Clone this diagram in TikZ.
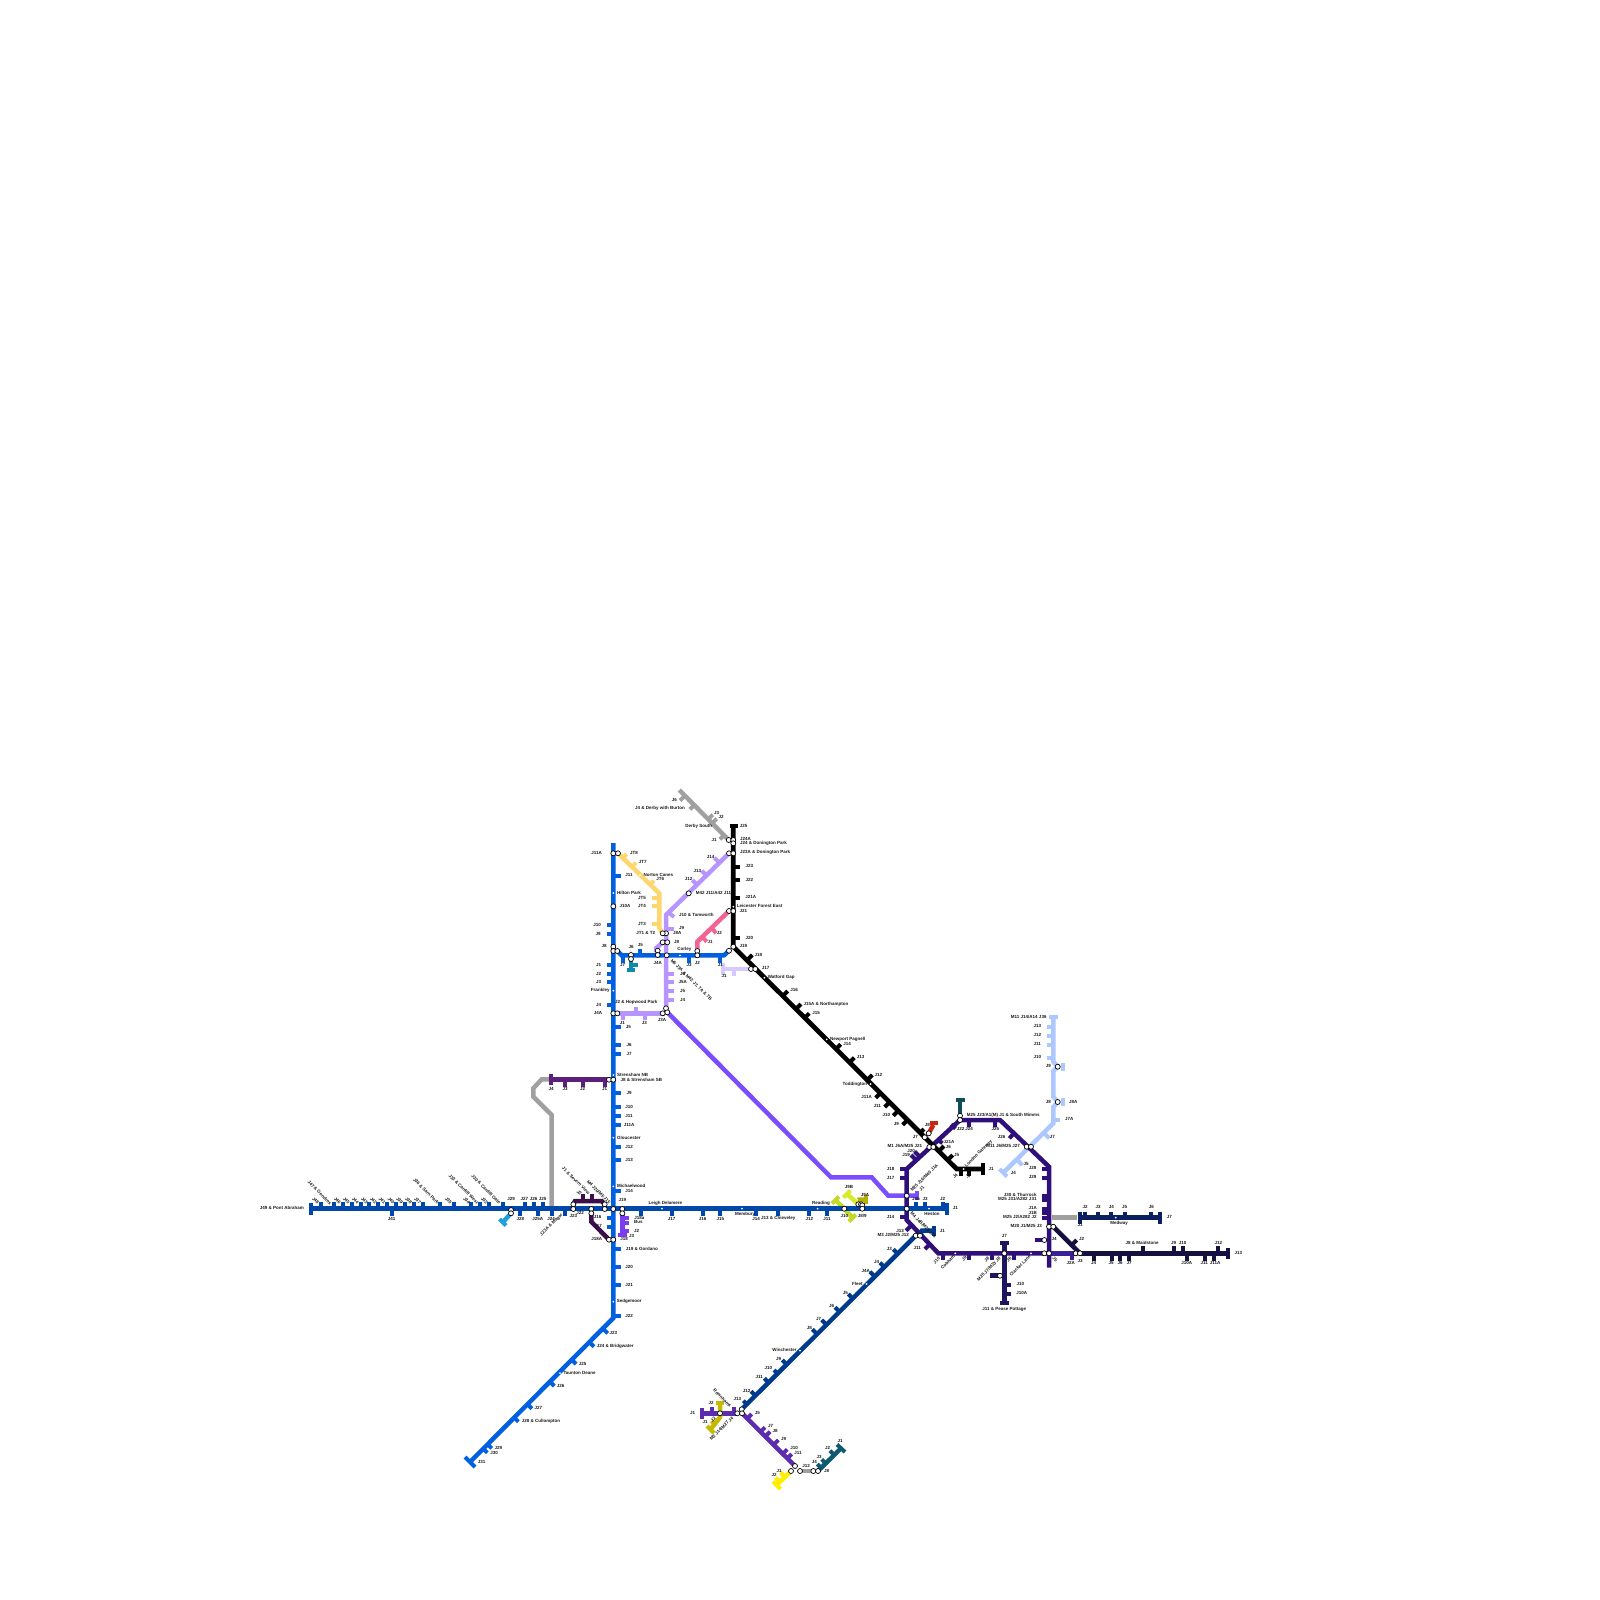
\documentclass[tikz,border=0pt]{standalone}
\usepackage{fontspec}
\setmainfont{Liberation Sans}
\definecolor{cFour}{HTML}{0047AB}
\definecolor{cFive}{HTML}{0060E0}
\definecolor{cLav}{HTML}{B794FF}
\definecolor{cForty}{HTML}{7C4DFF}
\definecolor{cToll}{HTML}{FFD66E}
\definecolor{cPink}{HTML}{F06595}
\definecolor{cPale}{HTML}{D6C9FF}
\definecolor{cM25}{HTML}{2F0F7A}
\definecolor{cM25b}{HTML}{3A1F99}
\definecolor{cMTw}{HTML}{14103F}
\definecolor{cMTh}{HTML}{1E1560}
\definecolor{cM2}{HTML}{0A2060}
\definecolor{cEle}{HTML}{ADC8FF}
\definecolor{cGrey}{HTML}{A0A0A0}
\definecolor{cFif}{HTML}{5B1F7E}
\definecolor{cFoE}{HTML}{3C0E4A}
\definecolor{cPur}{HTML}{7A3DF0}
\definecolor{cFiF}{HTML}{0F8AA8}
\definecolor{cAFE}{HTML}{1EA0DC}
\definecolor{cLime}{HTML}{C3D92A}
\definecolor{cLim}{HTML}{D8E82A}
\definecolor{cOli}{HTML}{B5B000}
\definecolor{cMTh3}{HTML}{003A8C}
\definecolor{cMTS}{HTML}{5B2BB0}
\definecolor{cOch}{HTML}{C7B800}
\definecolor{cYel}{HTML}{FFEE00}
\definecolor{cTeal}{HTML}{105A70}
\definecolor{cAOne}{HTML}{0F4C5C}
\definecolor{cRed}{HTML}{C8270F}
\newcount\lbn
\newcommand\mlb[4][]{\global\advance\lbn by 1 \node[lb,#1] (t\the\lbn) at (#2,#3) {#4};}
\newcommand\dotst[2]{\global\advance\lbn by 1 \node[dotst] (d\the\lbn) at (#1,#2) {};}
\tikzset{
 mway/.style={line width=4.5pt},
 tk/.style={line width=4pt},
 lb/.style={inner sep=0pt,font=\fontsize{4.5}{5}\selectfont\bfseries,text=black!90},
 lr/.style={rotate=-45},
 lu/.style={rotate=45},
 ist/.style={circle,draw=black,fill=white,line width=.7pt,minimum size=5pt,inner sep=0pt},
 dotst/.style={circle,fill=white,minimum size=2pt,inner sep=0pt}
}
\begin{document}
\begin{tikzpicture}[x=1pt,y=-1pt]
\useasboundingbox (0,0) rectangle (1600,1600);
\def\iclist{aa/613.3/853.3,ab/618/853.3,ac/613.3/906.3,ad/613.3/946.7,ae/613.3/951,af/617.3/951,ag/613.3/1013.3,ah/617.3/1013.3,ai/609/1079.7,aj/613.3/1079.7,ak/613.3/1209,al/609/1239.7,am/613.3/1239.7,an/511/1210,ao/511/1213.3,ap/573.3/1204.3,aq/573.3/1209,ar/604.7/1204.3,as/604.7/1209,at/591.3/1209,au/591.3/1213.3,av/622.3/1209,aw/622.3/1213.3,ba/631/955,bb/631/959,bc/657.7/950.7,bd/657.7/955,be/697.3/951,bf/697.3/955.3,bg/729/950.7,bh/733.3/946.7,bi/666/933.3,bj/662.7/933.3,bk/662.7/942.3,bl/667.3/942.3,bm/666.7/955.3,bn/666/1008.3,bo/662.7/1013.3,bp/667.3/1012.3,bq/688.7/893.3,ca/728.7/840,cb/733.3/840,cc/733.3/843.3,cd/729/853.3,ce/733.3/853.3,cf/729/911,cg/733.3/911,ch/751/969,ci/755.3/969,cj/928.7/1133.3,ck/924.7/1137.3,cl/929.3/1147,cm/933.3/1147,da/960/1115.7,db/960/1120,dc/1026.7/1146.7,dd/1031/1146.7,de/906.7/1195.7,df/906.7/1208.7,dg/844.3/1208.7,dh/858.3/1204.3,di/861/1204.3,dj/862.3/1205.3,dk/862.3/1208.7,dl/915.7/1235.7,dm/920/1235.7,ea/1049/1226.7,eb/1053.3/1226.7,ec/1044.3/1240,ed/1044.3/1253.3,ee/1049/1253.3,ef/1075.7/1253.3,eg/1080/1253.3,eh/1004.3/1253.3,ei/1000/1275.7,ej/1057.7/1066.7,ek/1057.7/1102,fa/741.7/1409.3,fb/737.3/1413.3,fc/742/1413.3,fd/720/1413.3,fe/795/1466,ff/791/1471,fg/800/1471,fh/813.3/1471,fi/818/1471}
\foreach \n/\x/\y in \iclist {\coordinate (\n) at (\x,\y);}
% ---- lines
\draw[mway,cGrey] (551.7,1206)--(551.7,1115)--(533.3,1096.7)--(533.3,1088.3)--(541.7,1079.3)--(552,1079.3);
\draw[mway,cGrey] (679.3,790)--(ca);
\draw[mway,cGrey] (1051.7,1217.7)--(1077.3,1217.7);
\draw[mway,cGrey] (fg)--(fh);
\draw[mway,cFoE] (ap)--(575,1201)--(601.7,1201)--(ar);
\draw[mway,cFoE] (au)--(591.3,1221.7)--(al);
\draw[mway,cPur] (aw)--(622.3,1235);
\draw[mway,cFif] (ai)--(551,1079.7);
\draw[mway,cAFE] (ao)--(503,1222);
\draw[mway,cFiF] (bb)--(631,970);
\draw[mway,cLime] (835.5,1200)--(dg)--(852.7,1218);
\draw[mway,cLim] (dh)--(847,1194);
\draw[mway,cOli] (di)--(860,1199.5)--(866,1199.5);
\draw[mway,cFive] (613.3,843)--(613.3,1318)--(470,1462);
\draw[mway,cFive] (af)--(621.7,955.3)--(724,955.3)--(bg);
\draw[mway,cLav] (cd)--(666,915)--(666,1011);
\draw[mway,cLav] (bk)--(656,948.3)--(656,952);
\draw[mway,cLav] (ah)--(bo);
\draw[mway,cForty] (bp)--(831,1177.3)--(871.7,1177.3)--(888.3,1195.7)--(916.7,1195.7);
\draw[mway,cToll] (ab)--(659.3,893.3)--(659.3,928)--(bj);
\draw[mway,cPink] (be)--(697.3,941.7)--(cf);
\draw[mway,cPale] (ch)--(723.3,969);
\draw[mway,cFour] (311,1208.7)--(947,1208.7);
\draw[mway,cAOne] (da)--(960,1100);
\draw[mway,cRed] (cj)--(933.3,1125);
\draw[mway,cEle] (1053.3,1016.7)--(1053.3,1061.7)--(ej)--(1053.3,1071)--(1053.3,1096.7)--(ek)--(1053.3,1107)--(1053.3,1123.3)--(1003.3,1172.7);
\draw[mway,cM25] (db)--(1000,1120)--(1049,1166.7)--(1049,1267.7);
\draw[mway,cM25] (db)--(906.7,1169)--(906.7,1220)--(938.3,1253.3)--(ee);
\draw[mway,cM25b] (ee)--(ef);
\draw[mway,cM25] (ec)--(1035,1240);
\draw[mway,cMTw] (eg)--(1228.3,1253.3);
\draw[mway,cMTw] (eb)--(eg);
\draw[mway,cM2] (1079.7,1217.7)--(1160,1217.7);
\draw[mway,cMTh] (1004.3,1243.3)--(1004.3,1302.7);
\draw[mway,cMTh] (ei)--(990,1275.7);
\draw[mway,cMTh3] (dl)--(fa);
\draw[mway,cMTh3] (dm)--(922,1230.7)--(934,1230.7);
\draw[mway,cMTS] (fb)--(701.7,1413.3);
\draw[mway,cMTS] (fc)--(fe);
\draw[mway,cOch] (720,1403.3)--(720,1417.3)--(710,1430);
\draw[mway,cYel] (ff)--(776.7,1485);
\draw[mway,cTeal] (fi)--(841,1448.3);
\draw[line width=4.7pt,black] (733.3,825.7)--(733.3,946.7)--(956.7,1169)--(981.7,1169);
% ---- ticks and end bars
\foreach \x in {320.7,334,343,351.7,360.7,369.3,378.3,387.3,396,405,413.7,422.7,440.3,453.7,471.3,480.3,489.3,502.7,525,534,542.7,916,925,942.7} \draw[tk,cFour] (\x,1208.7)--(\x,1201.7);
\foreach \x in {391.7,520,538,551.7,565,640.7,671.7,702.7,720.3,756,778,809.3,827} \draw[tk,cFour] (\x,1208.7)--(\x,1215.7);
\draw[tk,cFour] (311,1203)--(311,1214.5); \draw[tk,cFour] (947,1203)--(947,1214.5);
\foreach \y in {876,1027,1044.7,1053.7,1093.3,1107,1115.7,1124.7,1146.7,1160,1191.3,1249,1267,1284.7,1315.7} \draw[tk,cFive] (613.3,\y)--(620.5,\y);
\foreach \y in {924.7,933.7,964.7,973.7,981.7,1004.7,1218,1227} \draw[tk,cFive] (613.3,\y)--(606.5,\y);
\foreach \x/\y in {607.7/1333.3,594/1346.7,576/1364,554.3/1386,532/1408.7,518.3/1421.7,491.7/1448.3,487.3/1452.7} \draw[tk,cFive] (\x-4.5,\y-4.5)--(\x,\y);
\draw[tk,cFive] (465,1457)--(475,1467);
\foreach \x in {622.7,689,720.3} \draw[tk,cFive] (\x,955.3)--(\x,962.7);
\draw[tk,cFive] (640.3,955.3)--(640.3,949);
\draw[tk,cFoE] (582.7,1201)--(582.7,1193.5); \draw[tk,cFoE] (591.7,1201)--(591.7,1193.5);
\foreach \y in {1218,1222.5,1231} \draw[tk,cPur] (622.3,\y)--(629,\y);
\draw[tk,cPur] (618,1235.3)--(627,1235.3);
\foreach \x in {604.7,582.7,565} \draw[tk,cFif] (\x,1079.7)--(\x,1086.5);
\draw[tk,cFif] (551,1074)--(551,1085);
\draw[tk,cFiF] (631,964.5)--(637.5,964.5); \draw[tk,cFiF] (627,969.5)--(635,969.5);
\draw[tk,cAFE] (499.5,1219)--(506,1225.5);
\draw[tk,cLime] (832,1203.5)--(839,1196.5); \draw[tk,cLime] (849,1221.5)--(856,1214.5);
\draw[tk,cLim] (843.5,1197.5)--(850.5,1190.5);
\draw[tk,cOli] (866,1195)--(866,1204);
\draw[tk,cToll] (622.3,858.3)--(626.7,854); \draw[tk,cToll] (631.7,867.3)--(636,862.7); \draw[tk,cToll] (649.3,885)--(654,880.7);
\foreach \y in {897.7,906.3,924.3} \draw[tk,cToll] (659.3,\y)--(651.7,\y);
\foreach \x/\y in {714.3/857.7,701.7/870.7,692.3/880} \draw[tk,cLav] (\x+4.7,\y+4.7)--(\x,\y);
\draw[tk,cLav] (669,912.7)--(674,917);
\foreach \y in {929,973.7,982.3,991.3,1000} \draw[tk,cLav] (666,\y)--(674,\y);
\foreach \x in {622.7,645} \draw[tk,cLav] (\x,1013.3)--(\x,1020);
\draw[tk,cLav] (636,1013.3)--(636,1006.5);
\draw[tk,cPink] (702.7,937.3)--(706.7,941.7); \draw[tk,cPink] (712.7,929)--(716,933.3);
\draw[tk,cPale] (723.3,963)--(723.3,974.5); \draw[tk,cPale] (734,969)--(734,975.7);
\draw[tk,cForty] (916.7,1191)--(916.7,1200);
\draw[tk,black] (729.5,825.7)--(737.5,825.7);
\foreach \y in {866.7,880,897.7,938} \draw[tk,black] (733.3,\y)--(740,\y);
\foreach \X/\Y in {747.3/960,782.7/996,796/1009,804.3/1018.3,835.7/1049.3,849.3/1062.7,867.3/1080,919/1134,939/1151,947.7/1160} \draw[tk,black] (\X,\Y)--(\X+5,\Y-5);
\foreach \X/\Y in {875.7/1097.7,884.7/1107,893.3/1115.7,902.7/1124.7} \draw[tk,black] (\X+5,\Y-5)--(\X,\Y);
\foreach \x in {960.5,969} \draw[tk,black] (\x,1169)--(\x,1175.5);
\draw[tk,black] (982.7,1163)--(982.7,1175);
\draw[tk,cGrey] (685,795.7)--(680,800.5);
\draw[tk,cGrey] (695,804.3)--(690,809.3);
\draw[tk,cGrey] (708.3,819)--(712.7,814.7); \draw[tk,cGrey] (712.3,823)--(716.7,818.7);
\draw[tk,cGrey] (725,834.3)--(720,839.3);
\draw[tk,cAOne] (955.5,1100)--(964.5,1100);
\draw[tk,cRed] (929.5,1123.2)--(938,1123.2);
\foreach \x in {969,995.3} \draw[tk,cM25] (\x,1120)--(\x,1126.7);
\draw[tk,cM25] (1013.3,1134)--(1009.3,1138.3);
\foreach \y in {1169,1178,1195.7,1200,1209,1213.3,1217.7} \draw[tk,cM25] (1049,\y)--(1042.3,\y);
\draw[tk,cM25] (951,1124.5)--(955.5,1128.5);
\draw[tk,cM25] (936.5,1139.5)--(942.5,1143);
\draw[tk,cM25] (919.5,1156.5)--(914.5,1151.5); \draw[tk,cM25] (916,1160)--(911,1155);
\foreach \y in {1169.3,1178.3,1217.3} \draw[tk,cM25] (906.7,\y)--(900,\y);
\draw[tk,cM25] (910.7,1226)--(906,1230.7); \draw[tk,cM25] (930,1244)--(925,1249);
\foreach \x in {942.7,969.3,991.7,1014} \draw[tk,cM25] (\x,1253.3)--(\x,1260);
\draw[tk,cM25b] (1071.7,1253.3)--(1071.7,1260);
\draw[tk,cMTw] (1071,1245.7)--(1076.7,1240);
\foreach \x in {1094,1111.7,1120.3,1129.3,1187.3,1205,1213.7} \draw[tk,cMTw] (\x,1253.3)--(\x,1260.5);
\foreach \x in {1142.7,1173.7,1182.7,1218.3} \draw[tk,cMTw] (\x,1253.3)--(\x,1246.3);
\draw[tk,cMTw] (1228.3,1247.5)--(1228.3,1259);
\foreach \x in {1085,1098,1111.3,1124.7,1151.3} \draw[tk,cM2] (\x,1217.7)--(\x,1211.5);
\draw[tk,cM2] (1079.7,1212)--(1079.7,1223.5); \draw[tk,cM2] (1160,1212)--(1160,1223.5);
\draw[tk,cMTh] (1000,1243.3)--(1009,1243.3); \draw[tk,cMTh] (1000,1302.7)--(1008.5,1302.7);
\foreach \y in {1285,1293.7} \draw[tk,cMTh] (1004.3,\y)--(1011,\y);
\draw[tk,cEle] (1049,1016.7)--(1057.5,1016.7);
\foreach \y in {1026.7,1035.7,1044.7,1058} \draw[tk,cEle] (1053.3,\y)--(1046.7,\y);
\draw[tk,cEle] (1062.7,1062.5)--(1062.7,1070.5); \draw[tk,cEle] (1062.7,1098)--(1062.7,1106);
\draw[tk,cEle] (1053.3,1120)--(1060,1120);
\draw[tk,cEle] (1045,1134)--(1049.3,1138.3); \draw[tk,cEle] (1018.3,1161)--(1022.3,1165);
\draw[tk,cEle] (999.5,1169)--(1007,1176.5);
\foreach \x/\y in {893.3/1249.3,880/1262.7,870/1271.7,848.3/1294,835/1307.3,821.7/1320,812.3/1329.3,782.3/1360,774/1370,764.3/1378.3,751/1391.3,743.3/1400.7} \draw[tk,cMTh3] (\x+4.5,\y+4.5)--(\x,\y);
\draw[tk,cMTh3] (934,1226)--(934,1235.5);
\draw[tk,cMTS] (701.7,1407.5)--(701.7,1419); 
\foreach \x in {711.7,734} \draw[tk,cMTS] (\x,1413.3)--(\x,1406.7);
\foreach \x/\y in {751.7/1414,765/1427.3,770/1431.7,778.3/1440,787.3/1449.3,791.7/1454} \draw[tk,cMTS] (\x-4.5,\y+4.5)--(\x,\y);
\draw[tk,cOch] (716,1403.3)--(724,1403.3); \draw[tk,cOch] (707,1426)--(714,1433); \draw[tk,cOch] (711.5,1421)--(716,1425.5);
\draw[tk,cYel] (773,1481.5)--(780.5,1489); \draw[tk,cYel] (785,1477)--(780.5,1472.5); \draw[tk,cYel] (780,1482)--(775.5,1477.5);
\foreach \x/\y in {817.3/1464,821.7/1459.3,830/1450.7} \draw[tk,cTeal] (\x+4,\y+4)--(\x,\y);
\draw[tk,cTeal] (837,1444.5)--(845,1452);
% ---- stations
\foreach \n/\x/\y in \iclist {\node[ist] (c\n) at (\n) {};}
\dotst{613.3}{893} \dotst{613.3}{990.7} \dotst{613.3}{1075} \dotst{613.3}{1137.7} \dotst{613.3}{1186.3} \dotst{613.3}{1301.7} \dotst{560}{1373}
\dotst{640}{875} \dotst{680}{955.3} \dotst{662}{1208.7} \dotst{742}{1208.7} \dotst{817.7}{1208.7} \dotst{929}{1208.7}
\dotst{733.3}{906.7} \dotst{764.3}{977.7} \dotst{826.7}{1039.3} \dotst{870.7}{1084} \dotst{963.7}{1169}
\dotst{955.3}{1253.3} \dotst{1031}{1253.3} \dotst{1115.7}{1217.7} \dotst{866.7}{1284} \dotst{800}{1350.7}
% ---- labels
\mlb[anchor=east]{304}{1208}{J49 \& Pont Abraham}
\foreach \x/\t in {315.7/J48,337.3/J46,346.3/J45,355.3/J44,364.3/J43,373.3/J42,382/J41,391/J40,399.7/J39,408.7/J38,417.7/J37,448.3/J35,466.7/J34,484.3/J32} {\mlb[lr]{\x}{1200.7}{\t}}
\mlb[lr,anchor=east]{331}{1204}{J47 \& Gendros}
\mlb[lr,anchor=east]{438.3}{1203.3}{J36 \& Sarn Park}
\mlb[lr,anchor=east]{477.7}{1203.3}{J33 \& Cardiff West}
\mlb[lr,anchor=east]{500}{1203.3}{J30 \& Cardiff Gate}
\foreach \x/\t in {391.7/J41,520.3/J28,537.7/J25A,551/J24,671.7/J17,702.7/J16,720.3/J15,756/J14,809.3/J12,827/J11} {\mlb{\x}{1218.5}{\t}}
\foreach \x/\t in {511/J29,524.3/J27,533.5/J26,542.7/J25} {\mlb{\x}{1199}{\t}}
\mlb[lu,anchor=east]{562.3}{1214}{J23A \& Magor}
\mlb{573.3}{1216}{J23} \mlb{580}{1213}{J22}
\mlb[lr,anchor=east]{589.3}{1194}{J1 \& Severn View}
\mlb[lr]{579.3}{1192.7}{J2}
\mlb[lr,anchor=east]{610}{1203.3}{M4 J20/M5 J15}
\mlb{597.5}{1217}{J16} \mlb{598}{1226}{J17}
\mlb{622.3}{1200.3}{J19}
\mlb{639.3}{1217.7}{J18a} \mlb{638.3}{1222}{Bus}
\mlb{636.7}{1230.7}{J2} \mlb{631.7}{1235.5}{J3}
\mlb{665.3}{1203}{Leigh Delamere}
\mlb{745}{1214}{Membury}
\mlb[anchor=west]{761}{1218.5}{J13 \& Chieveley}
\mlb{821}{1203}{Reading}
\mlb{844.3}{1216.3}{J10} \mlb{862.3}{1216.3}{J8/9}
\mlb{849}{1187.3}{J9B} \mlb{865}{1195}{J9A}
\mlb{916}{1198.5}{J4b} \mlb{925}{1198.5}{J3} \mlb{942.7}{1198.5}{J2}
\mlb{932}{1214}{Heston} \mlb{955.3}{1208.3}{J1}
\mlb{629}{875}{J11}
\mlb[anchor=west]{617}{893}{Hilton Park}
\mlb{625}{906.3}{J10A}
\mlb{597}{924.7}{J10} \mlb{598}{933.7}{J9} \mlb{604}{946}{J8}
\mlb{598.5}{964.7}{J1} \mlb{598.5}{973.7}{J2} \mlb{598.5}{981.7}{J3}
\mlb[anchor=east]{609.7}{990.7}{Frankley}
\mlb{598.5}{1004.7}{J4} \mlb{598}{1013.3}{J4A} \mlb{596.7}{853.3}{J11A}
\mlb{628.3}{1026.7}{J5}
\foreach \y/\t in {1044.7/J6,1053.7/J7,1093.3/J9,1107/J10,1115.7/J11,1124.7/J11A,1146.7/J12,1160/J13,1191.3/J14,1267/J20,1284.7/J21,1315.7/J22} {\mlb{629}{\y}{\t}}
\mlb[anchor=west]{617}{1075}{Strensham NB}
\mlb[anchor=west]{620.3}{1079.7}{J8 \& Strensham SB}
\mlb[anchor=west]{617}{1137.7}{Gloucester}
\mlb[anchor=west]{617}{1186.3}{Michaelwood}
\mlb{596.7}{1239.3}{J18A} \mlb{624}{1239.3}{J18}
\mlb[anchor=west]{625.7}{1248.5}{J19 \& Gordano}
\mlb[anchor=west]{616.7}{1301.7}{Sedgemoor}
\mlb{613.3}{1332.7}{J23}
\mlb[anchor=west]{596.7}{1346}{J24 \& Bridgwater}
\mlb{582.7}{1363.7}{J25}
\mlb[anchor=west]{563.3}{1373}{Taunton Deane}
\mlb{560.7}{1386}{J26} \mlb{538.3}{1408.3}{J27}
\mlb[anchor=west]{521.7}{1421.7}{J28 \& Cullompton}
\mlb{498.3}{1448.3}{J29} \mlb{494}{1452.7}{J30} \mlb{481.7}{1461.7}{J31}
\foreach \x/\t in {551/J4,565/J3,582.7/J2,604.7/J1} {\mlb{\x}{1089.3}{\t}}
\mlb{622.7}{965}{J7} \mlb{631}{947}{J6} \mlb{640.3}{944.7}{J5} \mlb{657.7}{962.7}{J4A}
\mlb{684.3}{949.3}{Corley} \mlb{689}{965}{J3} \mlb{697.3}{962.7}{J2} \mlb{720.3}{965}{J1}
\mlb{634}{853}{JT8} \mlb{642.7}{861.7}{JT7}
\mlb[anchor=west]{643.3}{875}{Norton Canes}
\mlb{660.3}{879.3}{JT6}
\mlb{642}{897.7}{JT5} \mlb{642}{906.3}{JT4} \mlb{642}{924.3}{JT3} \mlb{645.7}{933}{JT1 \& T2}
\mlb{710.7}{857.3}{J14} \mlb{697.3}{870.7}{J13} \mlb{688.7}{879.3}{J12}
\mlb[anchor=west]{695.7}{893}{M42 J11/A42 J11}
\mlb[anchor=west]{679}{915}{J10 \& Tamworth}
\mlb{681.7}{928.3}{J9} \mlb{677.3}{933}{J8A} \mlb{676.7}{941.7}{J8}
\foreach \y/\t in {973.7/J6,982.3/J5A,991.3/J5,999.7/J4} {\mlb{682.7}{\y}{\t}}
\mlb[lr,anchor=west]{671}{960}{M6 J3A \& M42 J7, 7A \& 7B}
\mlb{662}{1020.3}{J3A}
\mlb[anchor=west]{615}{1002.7}{J2 \& Hopwood Park}
\mlb{622.3}{1023}{J1} \mlb{644.3}{1023}{J3}
\mlb{710}{941.7}{J1} \mlb{719.3}{933}{J2}
\mlb{724}{976.3}{J1}
\mlb{674.3}{800}{J6}
\mlb[anchor=east]{685}{808.3}{J4 \& Derby with Burton}
\mlb{716.7}{813}{J3} \mlb{721}{817.3}{J2}
\mlb[anchor=east]{712.3}{826}{Derby South}
\mlb{714}{839.7}{J1}
\mlb{743.7}{825.7}{J25}
\mlb[anchor=west]{740}{839.3}{J24A}
\mlb[anchor=west]{740}{843.7}{J24 \& Donington Park}
\mlb[anchor=west]{740}{852.7}{J23A \& Donington Park}
\mlb{749.3}{866.3}{J23} \mlb{749.3}{880}{J22} \mlb{750.7}{897.3}{J21A}
\mlb[anchor=west]{736.7}{906}{Leicester Forest East}
\mlb{743.3}{910.7}{J21} \mlb{749.3}{937.5}{J20} \mlb{743.3}{946}{J19}
\mlb{758.3}{955}{J18} \mlb{765.7}{968.3}{J17}
\mlb[anchor=west]{767.7}{977.3}{Watford Gap}
\mlb{794}{990.3}{J16}
\mlb[anchor=west]{803.3}{1004}{J15A \& Northampton}
\mlb{816}{1012.7}{J15}
\mlb[anchor=west]{830}{1039.3}{Newport Pagnell}
\mlb{847}{1043.7}{J14} \mlb{860.7}{1057}{J13} \mlb{878.3}{1074.7}{J12}
\mlb[anchor=east]{867.3}{1084}{Toddington}
\mlb{866.7}{1097}{J11A} \mlb{877.3}{1106}{J11} \mlb{886.3}{1115}{J10} \mlb{896.3}{1123.7}{J9}
\mlb{927.3}{1124.7}{J8} \mlb{915.3}{1137}{J7}
\mlb[anchor=east]{922.3}{1146}{M1 J6A/M25 J21}
\mlb{948.3}{1146.7}{J6} \mlb{956.7}{1155}{J5}
\mlb[lu,anchor=west]{965.7}{1166.7}{London Gateway}
\mlb[lu]{955.3}{1176}{J4} \mlb[lu]{968.3}{1176}{J2}
\mlb{991}{1168.7}{J1}
\mlb[anchor=west]{966.7}{1115}{M25 J23/A1(M) J1 \& South Mimms}
\mlb{960.7}{1128.7}{J22} \mlb{969}{1129.3}{J24} \mlb{995.3}{1129}{J25} \mlb{1001.7}{1137}{J26}
\mlb[anchor=east]{1020}{1146}{M11 J6/M25 J27}
\mlb{949}{1141.7}{J21A}
\mlb{911}{1150.7}{J20} \mlb{906}{1155}{J19}
\mlb{890.7}{1168.7}{J18} \mlb{890.7}{1177.7}{J17} \mlb{890.7}{1217.3}{J14} \mlb{900}{1230.7}{J13}
\mlb[lu,anchor=west]{911}{1191}{M25 J16/M40 J1A}
\mlb[lu]{921.7}{1188.3}{J1}
\mlb[lr,anchor=west]{911}{1212.7}{M4 J4B/M25 J15}
\mlb[anchor=east]{909}{1235}{M3 J2/M25 J12}
\mlb{917.3}{1248.3}{J11} \mlb{942.3}{1230.7}{J1}
\mlb[lu]{936.7}{1260.7}{J10}
\mlb[lu,anchor=east]{954.3}{1255.3}{Cobham}
\mlb[lu]{964.3}{1258.3}{J9} \mlb[lu]{986.7}{1259.3}{J8} \mlb[lu]{1009}{1259.3}{J6}
\mlb[lu,anchor=east]{1000}{1257.7}{M25 J7/M23 J8}
\mlb[lu,anchor=east]{1030}{1255.7}{Clacket Lane}
\mlb{1004.3}{1236}{J7}
\mlb{1020.3}{1284.3}{J10} \mlb{1021.7}{1293}{J10A}
\mlb{1004.3}{1309.3}{J11 \& Pease Pottage}
\mlb{1032.7}{1168.3}{J28} \mlb{1032.7}{1177.3}{J29}
\mlb[anchor=east]{1036.7}{1195}{J30 \& Thurrock}
\mlb[anchor=east]{1036.7}{1199.3}{M25 J31/A282 J31}
\mlb{1032.7}{1208.3}{J1A} \mlb{1032.7}{1212.7}{J1B}
\mlb[anchor=east]{1036.7}{1217.3}{M25 J2/A282 J2}
\mlb[anchor=east]{1042}{1226.3}{M20 J1/M25 J3}
\mlb{1054}{1239.3}{J4} \mlb[lr]{1055}{1259}{J5}
\mlb{1081.7}{1239.3}{J2} \mlb{1080}{1260.7}{J3} \mlb{1070.7}{1262.7}{J2A}
\foreach \x/\t in {1093.7/J4,1111/J5,1120/J6,1129/J7,1186.7/J10A,1204.3/J11,1215/J11A} {\mlb{\x}{1262.7}{\t}}
\mlb{1142}{1242.7}{J8 \& Maidstone} \mlb{1173.7}{1242.7}{J9} \mlb{1182.7}{1242.7}{J10} \mlb{1218.3}{1242.7}{J12}
\mlb{1238.3}{1252.7}{J13}
\foreach \x/\t in {1085/J2,1098/J3,1111.3/J4,1124.7/J5,1151.3/J6} {\mlb{\x}{1207.3}{\t}}
\mlb{1080}{1225}{J1} \mlb{1169.3}{1217.3}{J7} \mlb{1119}{1223}{Medway}
\mlb[anchor=east]{1046.7}{1017}{M11 J14/A14 J36}
\foreach \y/\t in {1026/J13,1035/J12,1043.7/J11,1057/J10} {\mlb{1037.3}{\y}{\t}}
\mlb{1048.3}{1066}{J9} \mlb{1048.3}{1101.7}{J8} \mlb{1073.3}{1101.7}{J8A}
\mlb{1069.3}{1119.3}{J7A} \mlb{1052.3}{1137}{J7} \mlb{1026}{1164}{J5} \mlb{1013.3}{1172.7}{J4}
\mlb{889.3}{1248.7}{J3} \mlb{876.7}{1262}{J4} \mlb{865.7}{1270.7}{J4A}
\mlb[anchor=east]{862.7}{1284}{Fleet}
\mlb{845.3}{1292.7}{J5} \mlb{831.7}{1306}{J6} \mlb{818.7}{1319.3}{J7} \mlb{809.3}{1328.3}{J8}
\mlb[anchor=east]{796.7}{1350.3}{Winchester}
\mlb{778.7}{1359.3}{J9} \mlb{768.3}{1368.3}{J10} \mlb{759.3}{1377.3}{J11} \mlb{746.7}{1390.7}{J12} \mlb{737.3}{1399.3}{J13}
\mlb{692.7}{1412.7}{J1} \mlb{711}{1402.7}{J2}
\mlb[lr,anchor=east]{731}{1406.7}{Rownhams}
\mlb{705}{1421.7}{J1} \mlb[lu]{713.3}{1419.3}{J2}
\mlb[lu,anchor=east]{732.7}{1417.3}{M3 J14/M27 J4}
\mlb{757.3}{1412.7}{J5} \mlb{770.7}{1425.7}{J7} \mlb{775}{1430.7}{J8} \mlb{783.7}{1439.3}{J9} \mlb{794}{1448}{J10} \mlb{798}{1452.7}{J11}
\mlb{779}{1470.7}{J1} \mlb{774}{1475}{J2}
\mlb{806}{1466}{J12} \mlb{826.7}{1470.7}{J8}
\mlb{840}{1440.7}{J1} \mlb{827.7}{1448.3}{J2} \mlb{819}{1457.3}{J3} \mlb{814.3}{1462}{J4}
\end{tikzpicture}
\end{document}
